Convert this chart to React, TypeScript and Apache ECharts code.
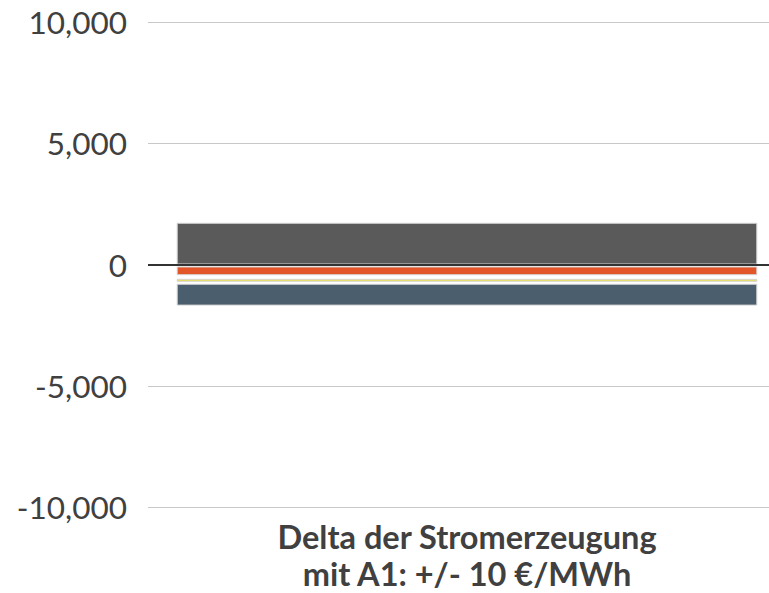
import React, { useEffect, useRef } from "react";
import * as echarts from "echarts";

const categories = ["Delta der Stromerzeugung\nmit A1: +/- 10 €/MWh"];
const yTicks = [-10000, -5000, 0, 5000, 10000];
const seriesNames = ["Positiv", "Lücke 1", "Orange", "Lücke 2", "Gelb", "Lücke 3", "Blaugrau"];
const seriesValues = [[1720], [-80], [-360], [-150], [-125], [-80], [-900]];
const seriesColors = ["#5a5a5a", "transparent", "#e2562a", "transparent", "#e8de5c", "transparent", "#4b5e6d"];

export default function App() {
  const ref = useRef<HTMLDivElement>(null);
  useEffect(() => {
    const chart = echarts.init(ref.current!, null, { renderer: "svg" });
    const series: any[] = seriesNames.map((name, i) => ({
      name,
      type: "bar",
      stack: "total",
      barWidth: "91%",
      data: seriesValues[i],
      itemStyle: {
        color: seriesColors[i],
        borderColor: seriesColors[i] === "transparent" ? "transparent" : "#d4d4d4",
        borderWidth: seriesColors[i] === "transparent" ? 0 : 1,
      },
      silent: true,
    }));
    series[0].markLine = {
      silent: true,
      symbol: "none",
      label: { show: false },
      lineStyle: { color: "#333333", width: 2, type: "solid" },
      data: [{ yAxis: 0 }],
      z: 10,
    };
    chart.setOption({
      animation: false,
      grid: { left: 148, right: -17, top: 22, bottom: 86, containLabel: false, outerBoundsMode: "none" },
      xAxis: {
        type: "category",
        data: categories,
        axisLine: { show: false },
        axisTick: { show: false },
        axisLabel: {
          fontFamily: "Lato",
          fontWeight: "bold",
          fontSize: 32.5,
          color: "#404040",
          lineHeight: 37,
          margin: 11,
        },
      },
      yAxis: {
        type: "value",
        min: yTicks[0],
        max: yTicks[yTicks.length - 1],
        interval: 5000,
        axisLine: { show: false },
        axisTick: { show: false },
        splitLine: { lineStyle: { color: "#c8c8c8", width: 1 } },
        axisLabel: {
          fontFamily: "Lato",
          fontSize: 31.5,
          color: "#404040",
          margin: 21,
          formatter: (v: number) => v.toLocaleString("en-US"),
        },
      },
      series,
    });
    return () => chart.dispose();
  }, []);
  return <div ref={ref} style={{ width: 769, height: 593, position: "absolute", left: 0, top: 0 }} />;
}
